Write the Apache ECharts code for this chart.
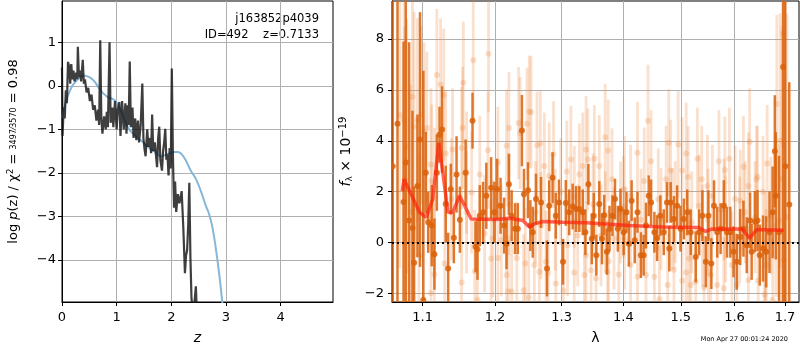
<!DOCTYPE html>
<html>
<head>
<meta charset="utf-8">
<script src="https://cdn.jsdelivr.net/npm/echarts@6/dist/echarts.min.js"></script>
<style>
  html, body { margin: 0; padding: 0; background: #fff; }
  #chart { width: 800px; height: 350px; }
</style>
</head>
<body>
<div id="chart"></div>
<script>
// left panel: log p(z)
var zTicks = [0, 1, 2, 3, 4];
var pTicks = [-4, -3, -2, -1, 0, 1];
var zRange = [0, 4.96];
var pRange = [-4.97, 1.95];

var pzZ = [0.00, 0.01, 0.03, 0.05, 0.07, 0.09, 0.11, 0.13, 0.15, 0.17, 0.19, 0.21, 0.23, 0.26, 0.28, 0.29, 0.31, 0.33, 0.35, 0.38,
  0.40, 0.42, 0.45, 0.48, 0.51, 0.54, 0.57, 0.60, 0.63, 0.66, 0.68, 0.70, 0.72, 0.74, 0.77, 0.80, 0.82, 0.84, 0.87, 0.89,
  0.92, 0.94, 0.97, 1.00, 1.02, 1.05, 1.07, 1.10, 1.13, 1.16, 1.18, 1.20, 1.22, 1.24, 1.26, 1.29, 1.31, 1.34, 1.36, 1.39,
  1.41, 1.44, 1.47, 1.49, 1.51, 1.53, 1.56, 1.58, 1.61, 1.63, 1.65, 1.67, 1.70, 1.72, 1.74, 1.76, 1.78, 1.80, 1.83, 1.85,
  1.87, 1.89, 1.91, 1.93, 1.95, 1.97, 1.99, 2.01, 2.03, 2.05, 2.07, 2.09, 2.12, 2.15, 2.19, 2.22, 2.25, 2.27, 2.29, 2.31,
  2.33, 2.35, 2.37, 2.40, 2.43, 2.45, 2.47, 2.50];
var pzLog = [0.42, -1.15, -0.5, -0.75, -0.1, -0.4, 0.55, 0.45, 0.05, 0.5, 0.15, 0.35, 0.1, 0.3, 0.15, 0.9, 0.2, 0.35, 0.1, 0.6,
  0.05, 0.15, -0.15, -0.05, -0.35, -0.2, -0.55, -0.45, -0.8, -0.55, -0.9, 1.05, -0.75, -1.1, -0.7, -1.0, -0.6, -0.95, 1.0, -0.85,
  -0.5, -0.95, -0.35, -1.0, -0.55, -0.37, -1.15, -0.35, -1.0, -0.4, -1.1, -0.45, -0.9, 0.56, -0.95, -0.5, -1.2, -0.75, -1.25, -0.8,
  -1.3, -0.9, 0.05, -1.2, -1.45, -1.62, -1.0, -1.4, -1.2, -1.55, -0.66, -1.5, -1.3, -1.6, -1.87, -1.2, -0.94, -1.7, -1.95, -1.5,
  -1.3, -0.99, -1.7, -1.58, -2.06, -1.43, -1.9, 0.40, -1.6, -2.8, -2.2, -2.9, -2.49, -2.7, -2.42, -3.25, -4.31, -3.9, -3.78, -3.2,
  -2.23, -3.93, -4.88, -5.3, -4.9, -4.61, -5.3, -6.0];

var smoothZ = [0, 0.05, 0.1, 0.15, 0.2, 0.3, 0.39, 0.5, 0.58, 0.65, 0.73, 0.8, 0.85, 0.92, 0.98, 1.04, 1.10, 1.16, 1.22, 1.3,
  1.38, 1.47, 1.55, 1.63, 1.72, 1.81, 1.87, 1.93, 2.0, 2.06, 2.12, 2.18, 2.24, 2.30, 2.36, 2.45, 2.55, 2.63, 2.70, 2.76,
  2.82, 2.88, 2.93, 2.98];
var smoothLog = [-0.75, -0.45, -0.25, -0.1, 0.02, 0.16, 0.24, 0.2, 0.12, 0.0, -0.14, -0.22, -0.27, -0.3, -0.35, -0.48, -0.64, -0.82, -0.98, -1.1,
  -1.2, -1.28, -1.37, -1.46, -1.53, -1.62, -1.6, -1.57, -1.54, -1.52, -1.52, -1.56, -1.66, -1.8, -1.96, -2.14, -2.45, -2.75, -2.98, -3.3,
  -3.78, -4.35, -4.93, -5.5];

// right panel: spectrum
var lamTicks = [1.1, 1.2, 1.3, 1.4, 1.5, 1.6, 1.7];
var fluxTicks = [-2, 0, 2, 4, 6, 8];
var lamRange = [1.0603, 1.7289];
var fluxRange = [-2.33, 9.49];

var darkLam = [1.0612, 1.0673, 1.0751, 1.0780, 1.0823, 1.0867, 1.0888, 1.0932, 1.0966, 1.1010,
  1.1042, 1.1074, 1.1121, 1.1157, 1.1190, 1.1226, 1.1260, 1.1310, 1.1343, 1.1379,
  1.1421, 1.1458, 1.1504, 1.1583, 1.1680, 1.1722, 1.1750, 1.1782, 1.1829, 1.1875,
  1.1944, 1.1990, 1.2030, 1.2080, 1.2132, 1.2167, 1.2202, 1.2242, 1.2292, 1.2333,
  1.2394, 1.2424, 1.2485, 1.2520, 1.2556, 1.2606, 1.2682, 1.2773, 1.2807, 1.2859,
  1.2909, 1.2959, 1.3021, 1.3065, 1.3118, 1.3173, 1.3226, 1.3279, 1.3334, 1.3376,
  1.3424, 1.3479, 1.3511, 1.3553, 1.3601, 1.3645, 1.3682, 1.3726, 1.3769, 1.3818,
  1.3860, 1.3908, 1.3952, 1.4005, 1.4053, 1.4093, 1.4140, 1.4193, 1.4240, 1.4298,
  1.4346, 1.4386, 1.4433, 1.4474, 1.4532, 1.4579, 1.4637, 1.4697, 1.4754, 1.4795,
  1.4819, 1.4877, 1.4935, 1.4995, 1.5056, 1.5117, 1.5180, 1.5272, 1.5333, 1.5395,
  1.5458, 1.5506, 1.5561, 1.5611, 1.5672, 1.5735, 1.5796, 1.5857, 1.5920, 1.5981,
  1.6044, 1.6110, 1.6173, 1.6237, 1.6302, 1.6333, 1.6398, 1.6448, 1.6494, 1.6558,
  1.6621, 1.6687, 1.6750, 1.6794, 1.6814, 1.6879, 1.6962, 1.7006, 1.7088];
var darkFlux = [3.0, 4.67, 1.6, 3.15, 0.87, 0.58, -0.79, 2.23, 4.05, -2.25,
  2.75, 0.8, 0.67, -0.45, 2.75, 4.24, 4.44, 1.52, -1.01, 2.1,
  0.19, 2.68, 0.9, 2.75, 4.79, -0.16, -0.26, 1.06, 1.19, 1.84,
  2.16, 1.19, 2.1, 1.45, 0.67, -0.04, 2.29, 1.06, 0.55, 0.55,
  4.4, 1.9, 2.06, 0.67, 0.41, 1.71, 1.58, -1.01, 1.45, 2.55,
  1.06, 1.58, -0.75, 1.56, 1.19, 1.42, 1.32, 1.32, 1.19, 0.41,
  2.29, 0.15, 1.06, -0.49, 1.52, 0.15, 1.08, -0.36, 0.55, 1.06,
  1.71, 0.55, 1.32, 0.41, 1.19, -0.04, 1.65, 0.09, 1.19, -0.49,
  -0.49, 0.67, 1.84, 1.58, 0.41, 0.18, 1.06, 0.41, 1.58, -0.23,
  1.58, 0.93, 1.45, 0.55, 0.93, 1.19, 0.41, -0.56, 0.41, 1.06,
  -0.75, 1.06, -0.82, 1.45, 0.41, 0.55, 1.45, 0.41, 0.41, -0.36,
  -0.75, 0.22, 0.55, -0.1, 0.87, -0.36, 0.83, 0.87, -0.49, -0.23,
  -0.36, 0.41, 1.19, 3.59, 1.84, 0.41, 6.9, 3.0, 1.5];
var darkErr = [8, 7, 6.3, 7, 7, 4.6, 3, 2.8, 5, 9,
  1.6, 1.2, 1.6, 1.4, 1.5, 1.1, 1.7, 1.5, 1.4, 1.0,
  1.0, 1.5, 1.3, 1.3, 1.1, 1.0, 1.2, 1.2, 1.2, 1.3,
  1.2, 1.2, 1.2, 1.1, 1.1, 1.0, 1.2, 1.0, 1.0, 1.0,
  1.4, 1.0, 1.1, 1.0, 1.0, 1.0, 1.0, 1.1, 1.0, 1.0,
  0.9, 0.9, 0.9, 0.9, 0.9, 0.9, 0.9, 0.9, 0.9, 0.9,
  0.8, 1.0, 0.9, 0.8, 0.9, 1.0, 0.8, 0.9, 0.9, 0.8,
  0.8, 0.9, 0.8, 0.9, 0.8, 0.9, 0.8, 0.9, 0.8, 0.9,
  0.8, 0.9, 0.8, 0.9, 0.8, 0.9, 0.8, 0.9, 0.8, 0.9,
  0.8, 0.9, 0.8, 0.9, 0.8, 0.9, 0.9, 1.0, 0.9, 1.0,
  1.0, 1.0, 1.0, 1.0, 1.0, 1.0, 1.0, 1.0, 1.0, 1.0,
  1.1, 1.1, 1.1, 1.1, 1.1, 1.1, 1.2, 1.2, 1.2, 1.3,
  1.4, 1.6, 1.8, 2.2, 2.5, 3, 10, 12, 4.8];

var lightLam = [1.0867, 1.1056, 1.1111, 1.1190, 1.1240, 1.1282, 1.1551, 1.1690, 1.1907, 1.1542,
  1.1310, 1.1403, 1.1528, 1.1597, 1.1782, 1.1899, 1.2041, 1.2167, 1.2202, 1.2344,
  1.2368, 1.2470, 1.2505, 1.1296, 1.1157, 1.1528, 1.1713, 1.1750, 1.1968, 1.2167,
  1.2193, 1.2242, 1.2420, 1.2496, 1.2444, 1.1111, 1.0932, 1.0983, 1.0888, 1.1018,
  1.1121, 1.1157, 1.1389, 1.1667, 1.1597, 1.2091, 1.1851, 1.1944, 1.2041, 1.2318,
  1.0703, 1.0767, 1.0758, 1.0793, 1.0845, 1.0952,
  1.2530, 1.2621, 1.2671, 1.2732, 1.2807, 1.2874, 1.3081, 1.3145, 1.3279, 1.3334,
  1.3387, 1.3415, 1.3521, 1.3601, 1.3698, 1.3747, 1.3811, 1.4018, 1.4240, 1.4421,
  1.4474, 1.4356, 1.4123, 1.3952, 1.2985, 1.2682, 1.2758, 1.2792, 1.2909, 1.3027,
  1.3198, 1.3360, 1.3468, 1.3548, 1.3737, 1.3753, 1.3924, 1.4123, 1.4240, 1.4386,
  1.4532, 1.4620, 1.4766, 1.2580, 1.2656, 1.3092, 1.3253, 1.3387, 1.3629, 1.3844,
  1.4023, 1.4649, 1.4737, 1.4784,
  1.4953, 1.5098, 1.5302, 1.5383, 1.5487, 1.5704, 1.5815, 1.5902, 1.6173, 1.6294,
  1.6429, 1.6448, 1.6640, 1.6833, 1.6962, 1.4819, 1.5024, 1.5135, 1.5579, 1.6013,
  1.6110, 1.6269, 1.6558, 1.6879, 1.4877, 1.5024, 1.5180, 1.5098, 1.5272, 1.5426,
  1.5506, 1.5550, 1.5672, 1.5796, 1.5950, 1.6044, 1.6269, 1.6462, 1.6590, 1.6621,
  1.6750, 1.6975, 1.5148, 1.5395, 1.5828, 1.6206, 1.6718, 1.6814, 1.5333, 1.4848,
  1.6900, 1.6940, 1.7040,
  1.2200, 1.2600, 1.2900, 1.3200, 1.3500, 1.3700, 1.4000, 1.4300, 1.4600, 1.4900,
  1.5200, 1.5500, 1.5800, 1.6100, 1.6400, 1.6600];
var lightFlux = [5.73, 4.5, 3.07, 6.58, 6.21, 5.8, 6.28, 7.16, 7.42, 4.5,
  3.5, 3.66, 3.72, 2.75, 2.68, 3.63, 3.14, 3.81, 4.5, 4.7,
  4.31, 4.67, 5.15, -0.82, -1.25, -1.56, -1.12, -2.25, 0.16, -1.27,
  -1.92, -1.92, -1.87, -2.15, -0.82, -1.98, 4.82, 5.02, 4.56, 4.37,
  2.42, 1.71, 1.71, 1.97, 1.19, 0.09, 0.35, -0.62, -0.6, -0.6,
  5.0, 2.5, 4.82, 3.79, 1.2, -0.49,
  5.12, 3.83, 3.89, 3.01, 2.62, 3.46, 2.79, 3.27, 2.68, 3.01,
  3.66, 3.27, 3.3, 3.01, 4.14, 3.62, 2.49, 2.1, 3.53, 4.79,
  3.2, 2.42, 1.84, 1.19, 2.0, 0.67, -0.75, -1.18, -1.6, -1.88,
  -1.17, -1.27, -1.08, -1.4, -1.14, -0.73, -1.25, -0.88, -1.34, -1.27,
  -1.34, -2.22, -1.66, -0.88, -1.14, -0.1, 0.28, -0.49, 0.28, 0.16,
  0.16, 0.93, 2.49, 3.92,
  3.85, 3.5, 3.3, 2.49, 2.23, 3.2, 2.85, 3.3, 2.98, 3.96,
  2.49, 2.59, 3.11, 5.45, 8.2, 2.83, 2.83, 2.58, 1.84, 1.71,
  1.65, 2.23, 2.0, 0.87, -1.06, -1.5, -1.66, -1.17, -1.53, -1.76,
  -1.17, -1.27, -1.66, -1.79, -0.88, -1.66, -1.47, -1.5, -2.05, -0.88,
  -2.25, -0.69, -0.62, 0.28, 0.54, 1.19, 1.06, 0.67, 1.45, 0.93,
  4.0, 2.5, 1.0,
  1.5, 1.2, 0.9, 1.8, 1.5, 0.8, 1.4, 0.9, 1.7, 1.2,
  0.8, 0.9, 1.3, 0.5, 1.0, -0.3];
var lightErr = [4.5, 3, 3, 2.6, 2.6, 2.6, 2.4, 2.4, 2.3, 2.4,
  2.5, 2.4, 2.4, 2.4, 2.3, 2.3, 2.2, 2.2, 2.2, 2.2,
  2.2, 2.2, 2.2, 2.5, 2.8, 2.4, 2.4, 2.4, 2.3, 2.2,
  2.2, 2.2, 2.2, 2.2, 2.2, 3, 4, 3.5, 4.5, 3.5,
  3, 2.8, 2.4, 2.4, 2.4, 2.2, 2.3, 2.3, 2.2, 2.2,
  6, 6, 5, 5, 5, 4,
  2.2, 2.1, 2.1, 2.1, 2.1, 2.1, 2.0, 2.1, 2.0, 2.1,
  2.1, 2.0, 2.1, 2.0, 2.1, 2.0, 2.0, 2.1, 2.0, 2.2,
  2.0, 2.1, 2.0, 2.0, 2.1, 2.1, 2.0, 2.1, 2.0, 2.0,
  2.1, 2.0, 2.0, 2.1, 2.0, 2.0, 2.1, 2.0, 2.0, 2.1,
  2.0, 2.1, 2.0, 2.1, 2.0, 2.0, 2.0, 2.1, 2.0, 2.0,
  2.0, 2.0, 2.1, 2.1,
  2.1, 2.0, 2.0, 2.1, 2.0, 2.0, 2.1, 2.0, 2.0, 2.1,
  2.1, 2.0, 2.3, 3.5, 4.5, 2.0, 2.1, 2.0, 2.0, 2.1,
  2.0, 2.1, 2.2, 3.0, 2.0, 2.1, 2.0, 2.0, 2.1, 2.0,
  2.0, 2.1, 2.0, 2.0, 2.1, 2.0, 2.1, 2.2, 2.2, 2.2,
  2.4, 3.5, 2.0, 2.0, 2.1, 2.0, 2.3, 2.8, 2.0, 2.0,
  5, 6, 8,
  2.0, 2.0, 2.0, 2.0, 2.0, 2.0, 2.0, 2.0, 2.0, 2.0,
  2.0, 2.0, 2.0, 2.1, 2.2, 2.3];

var modelLam = [1.0735, 1.0758, 1.0830, 1.0960, 1.1050, 1.1135, 1.1216, 1.1270, 1.1340, 1.1407,
  1.1499, 1.1570, 1.1660, 1.2016, 1.2212, 1.2408, 1.2507, 1.2582, 1.2709, 1.3017,
  1.3387, 1.4100, 1.4675, 1.5330, 1.5453, 1.5577, 1.6147, 1.6290, 1.6440, 1.6973];
var modelFlux = [2.03, 2.49, 2.03, 1.19, 1.0, 1.71, 3.92, 2.75, 1.19, 1.2,
  1.84, 1.45, 0.93, 0.91, 0.96, 0.87, 0.61, 0.74, 0.83, 0.8,
  0.78, 0.67, 0.62, 0.6, 0.44, 0.54, 0.54, 0.18, 0.52, 0.49];

var FONT = 'DejaVu Sans';
var minus = function (v) { return String(v).replace('-', '\u2212'); };

var zip = function (xs, ys) {
  return xs.map(function (x, i) { return [x, ys[i]]; });
};
var errData = function (lam, flux, err) {
  return lam.map(function (l, i) { return [Math.log10(l), flux[i], err[i]]; });
};

// vertical error bar + dot, through the axis scales
function errRender(color, barW, r) {
  return function (params, api) {
    var x = api.value(0), y = api.value(1), e = api.value(2);
    var top = api.coord([x, y + e]);
    var bot = api.coord([x, y - e]);
    var c = api.coord([x, y]);
    return {
      type: 'group',
      children: [
        { type: 'line', shape: { x1: top[0], y1: top[1], x2: bot[0], y2: bot[1] },
          style: { stroke: color, lineWidth: barW } },
        { type: 'circle', shape: { cx: c[0], cy: c[1], r: r }, style: { fill: color } }
      ]
    };
  };
}

var axisCommon = {
  axisLine: { show: true, onZero: false, lineStyle: { color: '#000', width: 1 } },
  splitLine: { show: true, lineStyle: { color: '#b0b0b0', width: 1 } },
  nameTextStyle: { fontFamily: FONT, fontSize: 14, color: '#000' }
};

var chart = echarts.init(document.getElementById('chart'), null, { renderer: 'canvas' });

var option = {
  animation: false,
  backgroundColor: '#fff',
  grid: [
    { left: 62, top: 1, width: 271, height: 303, show: true, borderColor: '#000', borderWidth: 1 },
    { left: 392, top: 1, width: 407, height: 303, show: true, borderColor: '#000', borderWidth: 1 }
  ],
  xAxis: [
    Object.assign({}, axisCommon, {
      gridIndex: 0, type: 'value', min: zRange[0], max: zRange[1],
      name: 'z', nameLocation: 'middle', nameGap: 29,
      nameTextStyle: { fontFamily: FONT, fontSize: 14, color: '#000', fontStyle: 'italic' },
      axisTick: { show: true, length: 4, lineStyle: { color: '#000' }, customValues: zTicks },
      axisLabel: { customValues: zTicks, margin: 9, fontFamily: FONT, fontSize: 13, color: '#000', formatter: minus }
    }),
    Object.assign({}, axisCommon, {
      gridIndex: 1, type: 'value', min: Math.log10(lamRange[0]), max: Math.log10(lamRange[1]),
      name: '\u03bb', nameLocation: 'middle', nameGap: 29,
      axisTick: { show: true, length: 4, lineStyle: { color: '#000' }, customValues: lamTicks.map(Math.log10) },
      axisLabel: { customValues: lamTicks.map(Math.log10), margin: 9, fontFamily: FONT, fontSize: 13, color: '#000',
        formatter: function (v) { return Math.pow(10, v).toFixed(1); } }
    })
  ],
  yAxis: [
    Object.assign({}, axisCommon, {
      gridIndex: 0, type: 'value', min: pRange[0], max: pRange[1],
      name: '{n|log }{i|p}{n|(z) / \u03c7}{s|2}{n| = }{f|3497\u20443570}{n| = 0.98}',
      nameLocation: 'middle', nameGap: 40,
      nameTextStyle: {
        fontFamily: FONT, fontSize: 13, color: '#000',
        rich: {
          n: { fontFamily: FONT, fontSize: 13, color: '#000' },
          i: { fontFamily: FONT, fontSize: 13, color: '#000', fontStyle: 'italic' },
          s: { fontFamily: FONT, fontSize: 9, color: '#000', verticalAlign: 'top', lineHeight: 16 },
          f: { fontFamily: FONT, fontSize: 8, color: '#000' }
        }
      },
      axisTick: { show: true, length: 4, lineStyle: { color: '#000' }, customValues: pTicks },
      axisLabel: { customValues: pTicks, margin: 6, fontFamily: FONT, fontSize: 13, color: '#000', formatter: minus }
    }),
    Object.assign({}, axisCommon, {
      gridIndex: 1, type: 'value', min: fluxRange[0], max: fluxRange[1],
      name: '{i|f}{b|\u03bb}{n| \u00d7 10}{s|\u221219}',
      nameLocation: 'middle', nameGap: 32,
      nameTextStyle: {
        fontFamily: FONT, fontSize: 14, color: '#000',
        rich: {
          n: { fontFamily: FONT, fontSize: 14, color: '#000' },
          i: { fontFamily: FONT, fontSize: 14, color: '#000', fontStyle: 'italic' },
          b: { fontFamily: FONT, fontSize: 9, color: '#000', verticalAlign: 'bottom', lineHeight: 16 },
          s: { fontFamily: FONT, fontSize: 10, color: '#000', verticalAlign: 'top', lineHeight: 16 }
        }
      },
      axisTick: { show: true, length: 4, lineStyle: { color: '#000' }, customValues: fluxTicks },
      axisLabel: { customValues: fluxTicks, margin: 8, fontFamily: FONT, fontSize: 13, color: '#000', formatter: minus }
    })
  ],
  series: [
    {
      type: 'line', xAxisIndex: 0, yAxisIndex: 0, data: zip(smoothZ, smoothLog),
      showSymbol: false, clip: true, smooth: true,
      lineStyle: { color: '#86b6d8', width: 2 }
    },
    {
      type: 'line', xAxisIndex: 0, yAxisIndex: 0, data: zip(pzZ, pzLog),
      showSymbol: false, clip: true,
      lineStyle: { color: 'rgba(20,20,20,0.82)', width: 2.2 }
    },
    {
      type: 'custom', xAxisIndex: 1, yAxisIndex: 1, clip: true,
      data: errData(lightLam, lightFlux, lightErr), encode: { x: 0, y: 1 },
      renderItem: errRender('rgba(235,140,70,0.27)', 2.8, 3)
    },
    {
      type: 'custom', xAxisIndex: 1, yAxisIndex: 1, clip: true,
      data: errData(darkLam, darkFlux, darkErr), encode: { x: 0, y: 1 },
      renderItem: errRender('rgba(218,98,10,0.85)', 2.5, 3)
    },
    {
      type: 'line', xAxisIndex: 1, yAxisIndex: 1,
      data: zip(modelLam.map(Math.log10), modelFlux),
      showSymbol: false, clip: true,
      lineStyle: { color: 'rgba(255,30,10,0.68)', width: 3.5 },
      markLine: {
        silent: true, symbol: 'none', label: { show: false },
        lineStyle: { color: '#000', type: [2, 3], width: 2 },
        data: [{ yAxis: 0 }]
      }
    }
  ],
  graphic: [
    { type: 'text', x: 319, y: 19, style: { text: 'j163852p4039', font: '11.5px "DejaVu Sans"', fill: '#000', align: 'right', verticalAlign: 'middle' } },
    { type: 'text', x: 319, y: 35, style: { text: 'ID=492    z=0.7133', font: '11.5px "DejaVu Sans"', fill: '#000', align: 'right', verticalAlign: 'middle' } },
    { type: 'text', x: 788, y: 339, style: { text: 'Mon Apr 27 00:01:24 2020', font: '6.5px "DejaVu Sans"', fill: '#000', align: 'right', verticalAlign: 'middle' } }
  ]
};

chart.setOption(option);
</script>
</body>
</html>
